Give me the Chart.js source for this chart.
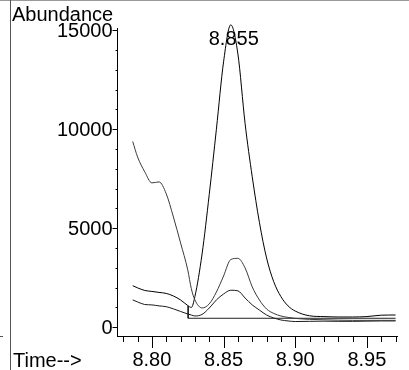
<!DOCTYPE html>
<html>
<head>
<meta charset="utf-8">
<script src="https://cdn.jsdelivr.net/npm/chart.js@4/dist/chart.umd.min.js"></script>
<style>
  html, body { margin: 0; padding: 0; background: #fff; }
  canvas { display: block; }
</style>
</head>
<body>
<canvas id="chromChart" width="409" height="370"></canvas>
<script>
// retention times (min) shared by the three ion traces
const times = [8.7866, 8.790, 8.795, 8.800, 8.805, 8.810, 8.815, 8.820, 8.825, 8.8275,
    8.830, 8.835, 8.840, 8.845, 8.850, 8.855, 8.860, 8.865, 8.870, 8.875,
    8.880, 8.885, 8.890, 8.895, 8.900, 8.910, 8.920, 8.930, 8.940, 8.950, 8.960, 8.970];

// target ion (big peak at 8.855)
const targetIon = [2100, 1990, 1860, 1810, 1760, 1710, 1580, 1380, 1100, 1000,
    1550, 3700, 6700, 10000, 13400, 15270, 13800, 10300, 7600, 5300,
    3500, 2300, 1550, 1080, 820, 580, 540, 520, 520, 540, 610, 620];

// qualifier ions
const qualifier1 = [9380, 8600, 7850, 7290, 7340, 6740, 5570, 4260, 2900, 1950,
    1380, 975, 1180, 1780, 2590, 3420, 3480, 3000, 2040, 1380,
    925, 700, 570, 500, 450, 400, 380, 360, 350, 350, 350, 350];

const qualifier2 = [1380, 1280, 1150, 1130, 1080, 1040, 930, 800, 670, 620,
    570, 650, 970, 1380, 1680, 1870, 1840, 1480, 1130, 870,
    620, 470, 370, 320, 290, 300, 310, 300, 300, 310, 320, 320];

// integration baseline of the target peak
const baseTimes = [8.8253, 8.8253, 8.970];
const baseValues = [1080, 455, 455];

const yLabels = [0, 5000, 10000, 15000];
const peakLabel = '8.855';
const peakTime = 8.855;

const FONT = '"Liberation Sans", Arial, sans-serif';

function toPoints(xs, ys) {
    return xs.map((x, i) => ({ x, y: ys[i] }));
}

function isMultiple(v, step) {
    const r = v / step;
    return Math.abs(r - Math.round(r)) < 1e-6;
}

const decorations = {
    id: 'decorations',
    afterDraw(chart) {
        const { ctx, chartArea, scales } = chart;
        const xs = scales.x, ys = scales.y;
        ctx.save();

        // outer frame
        ctx.strokeStyle = '#9a9a9a';
        ctx.lineWidth = 1;
        ctx.beginPath();
        ctx.moveTo(0, 0.5);
        ctx.lineTo(409, 0.5);
        ctx.stroke();
        ctx.strokeStyle = '#555';
        ctx.beginPath();
        ctx.moveTo(10.5, 0);
        ctx.lineTo(10.5, 370);
        ctx.moveTo(0, 336.5);
        ctx.lineTo(3, 336.5);
        ctx.stroke();

        // tick marks
        ctx.strokeStyle = '#000';
        ctx.beginPath();
        for (let i = 878; i <= 970; i++) {
            const v = i / 100;
            const px = Math.round(xs.getPixelForValue(v)) + 0.5;
            const len = isMultiple(v, 0.05) ? 12 : 6;
            ctx.moveTo(px, chartArea.bottom);
            ctx.lineTo(px, chartArea.bottom + len);
        }
        for (let v = 0; v <= 15000; v += 1000) {
            const py = Math.round(ys.getPixelForValue(v)) + 0.5;
            const len = v % 5000 === 0 ? 5 : 2;
            ctx.moveTo(chartArea.left, py);
            ctx.lineTo(chartArea.left - len, py);
        }
        ctx.stroke();

        // texts
        ctx.fillStyle = '#000';
        ctx.font = '20px ' + FONT;
        ctx.textAlign = 'right';
        ctx.textBaseline = 'middle';
        yLabels.forEach(v => {
            ctx.fillText(String(v), chartArea.left - 5, ys.getPixelForValue(v) + 1);
        });
        ctx.textBaseline = 'alphabetic';
        ctx.textAlign = 'left';
        ctx.fillText('Abundance', 12, 20.5);
        ctx.fillText('Time-->', 13, 366.5);
        ctx.textAlign = 'center';
        ctx.fillText(peakLabel, xs.getPixelForValue(peakTime) + 3, 44.5);
        ctx.restore();
    }
};

const lineStyle = {
    showLine: true,
    pointRadius: 0,
    borderWidth: 1,
    cubicInterpolationMode: 'monotone',
    clip: false
};

new Chart(document.getElementById('chromChart'), {
    type: 'scatter',
    data: {
        datasets: [
            { ...lineStyle, data: toPoints(times, qualifier1), borderColor: '#3a3a3a' },
            { ...lineStyle, data: toPoints(times, qualifier2), borderColor: '#1a1a1a' },
            { ...lineStyle, data: toPoints(times, targetIon), borderColor: '#000' },
            { ...lineStyle, data: toPoints(baseTimes, baseValues), borderColor: '#222', cubicInterpolationMode: 'default', tension: 0 }
        ]
    },
    options: {
        responsive: false,
        devicePixelRatio: 1,
        animation: false,
        layout: { padding: { top: 28, right: 5, left: 0, bottom: 0 } },
        plugins: { legend: { display: false }, tooltip: { enabled: false } },
        scales: {
            x: {
                type: 'linear',
                min: 8.776,
                max: 8.971,
                grid: { display: false, drawTicks: false },
                border: { display: true, color: '#000', width: 1 },
                ticks: {
                    stepSize: 0.01,
                    autoSkip: false,
                    maxRotation: 0,
                    padding: 12,
                    color: '#000',
                    font: { family: FONT, size: 20 },
                    callback: v => isMultiple(v, 0.05) ? v.toFixed(2) : ''
                },
                afterFit(scale) { scale.height = 34; }
            },
            y: {
                type: 'linear',
                min: -440,
                max: 15110,
                grid: { display: false, drawTicks: false },
                border: { display: true, color: '#000', width: 1 },
                ticks: { display: false, stepSize: 1000 },
                afterFit(scale) { scale.width = 117.5; }
            }
        }
    },
    plugins: [decorations]
});
</script>
</body>
</html>
